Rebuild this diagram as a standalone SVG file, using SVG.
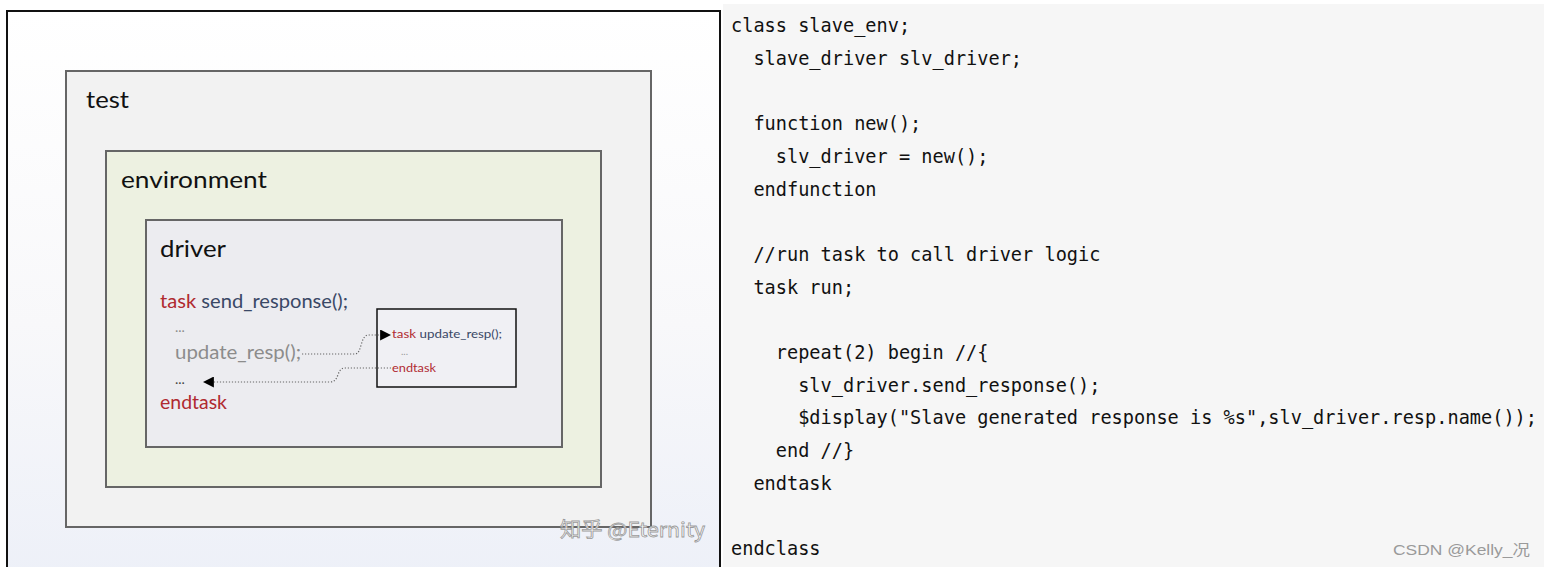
<svg xmlns="http://www.w3.org/2000/svg" width="1544" height="567" viewBox="0 0 1544 567">
<defs>
<linearGradient id="bg" x1="0" y1="0" x2="0" y2="1">
<stop offset="0" stop-color="#ffffff"/>
<stop offset="0.55" stop-color="#f8f8fa"/>
<stop offset="1" stop-color="#edf0f8"/>
</linearGradient>
<marker id="tri" viewBox="0 0 10 10" refX="9" refY="5" markerWidth="11" markerHeight="11" markerUnits="userSpaceOnUse" orient="auto">
<path d="M0,0 L10,5 L0,10 z" fill="#000"/>
</marker>
<style>
.box{stroke:#666;stroke-width:2}
.lbl{font-family:Lato,"Open Sans",sans-serif;font-size:23px;fill:#111}
.cal{font-family:Lato,"Open Sans",sans-serif}
.red{fill:#b02a30}
.blue{fill:#3a4866}
.gray{fill:#8c8c8c}
.code{font-family:"DejaVu Sans Mono",monospace;font-size:18.6px;fill:#111}
.dot{fill:none;stroke:#666;stroke-width:1.2;stroke-dasharray:1.2 1.8}
</style>
</defs>
<rect x="0" y="0" width="1544" height="567" fill="#ffffff"/>
<g id="left-panel">
<rect x="7" y="11" width="713" height="570" fill="url(#bg)" stroke="#111" stroke-width="2"/>
</g>
<g id="test">
<rect class="box" x="66" y="71" width="585" height="456" fill="#f2f2f2"/>
<text class="lbl" x="86" y="108" textLength="43" lengthAdjust="spacingAndGlyphs">test</text>
</g>
<g id="environment">
<rect class="box" x="106" y="151" width="495" height="336" fill="#edf1e1"/>
<text class="lbl" x="121" y="188" textLength="146" lengthAdjust="spacingAndGlyphs">environment</text>
</g>
<g id="driver">
<rect class="box" x="146" y="220" width="416" height="227" fill="#ececf0"/>
<text class="lbl" x="160" y="257" textLength="66" lengthAdjust="spacingAndGlyphs">driver</text>
<text class="cal" x="160" y="308" font-size="18.5" textLength="188" lengthAdjust="spacingAndGlyphs"><tspan class="red">task</tspan><tspan class="blue"> send_response();</tspan></text>
<text class="cal gray" x="175" y="332" font-size="14">...</text>
<text class="cal gray" x="175" y="359" font-size="18.5" textLength="126" lengthAdjust="spacingAndGlyphs">update_resp();</text>
<text class="cal" x="175" y="384" font-size="14" fill="#444">...</text>
<text class="cal red" x="160" y="409" font-size="18.5" textLength="67" lengthAdjust="spacingAndGlyphs">endtask</text>
</g>
<g id="update_resp">
<rect x="377" y="309" width="139" height="78" fill="#f0f0f4" stroke="#111" stroke-width="1.5"/>
<text class="cal" x="392" y="338" font-size="11.5" textLength="110" lengthAdjust="spacingAndGlyphs"><tspan class="red">task</tspan><tspan class="blue"> update_resp();</tspan></text>
<text class="cal" x="401" y="355" font-size="10" fill="#999">...</text>
<text class="cal red" x="392" y="372" font-size="11.5" textLength="44" lengthAdjust="spacingAndGlyphs">endtask</text>
</g>
<g id="connectors">
<path class="dot" d="M302,354 L355,354 C362,354 360,336 368,335 L390,335" marker-end="url(#tri)"/>
<path class="dot" d="M391,368 L345,368 C336,368 340,382 330,382 L204,382" marker-end="url(#tri)"/>
</g>
<g id="watermark">
<text x="560" y="537" font-family="'Noto Sans CJK SC',sans-serif" font-size="20" fill="#ffffff" stroke="#9a9a9a" stroke-width="0.8" textLength="145" lengthAdjust="spacingAndGlyphs">知乎 @Eternity</text>
</g>
<g id="code-panel">
<rect x="723" y="4" width="821" height="563" fill="#f6f6f6"/>
<text class="code" x="731" y="32" xml:space="preserve">class slave_env;</text>
<text class="code" x="731" y="64.7" xml:space="preserve">  slave_driver slv_driver;</text>
<text class="code" x="731" y="130" xml:space="preserve">  function new();</text>
<text class="code" x="731" y="162.8" xml:space="preserve">    slv_driver = new();</text>
<text class="code" x="731" y="195.5" xml:space="preserve">  endfunction</text>
<text class="code" x="731" y="261" xml:space="preserve">  //run task to call driver logic</text>
<text class="code" x="731" y="293.7" xml:space="preserve">  task run;</text>
<text class="code" x="731" y="359" xml:space="preserve">    repeat(2) begin //{</text>
<text class="code" x="731" y="391.7" xml:space="preserve">      slv_driver.send_response();</text>
<text class="code" x="731" y="424.4" xml:space="preserve">      $display("Slave generated response is %s",slv_driver.resp.name());</text>
<text class="code" x="731" y="457" xml:space="preserve">    end //}</text>
<text class="code" x="731" y="489.8" xml:space="preserve">  endtask</text>
<text class="code" x="731" y="555" xml:space="preserve">endclass</text>
<text x="1393" y="555" font-family="'Liberation Sans','Noto Sans CJK SC',sans-serif" font-size="15" fill="#9a9a9a" textLength="137" lengthAdjust="spacingAndGlyphs">CSDN @Kelly_况</text>
</g>
</svg>
